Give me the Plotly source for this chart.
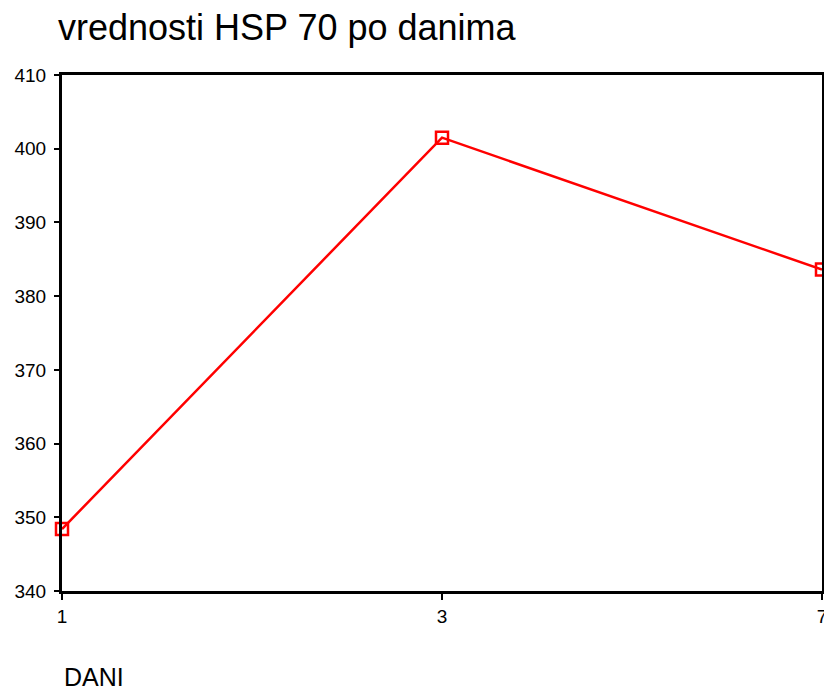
import plotly.graph_objects as go

days = ["1", "3", "7"]
hsp70 = [348.4, 401.5, 383.6]
y_ticks = [340, 350, 360, 370, 380, 390, 400, 410]

# page body has an 8px margin, so the figure is sized to fill the rest
W, H = 824, 685
ml, mr, mt, mb = 54, 5, 67, 102

fig = go.Figure()
fig.add_trace(go.Scatter(
    x=list(range(len(days))), y=hsp70,
    mode="lines+markers",
    line=dict(color="#ff0000", width=2.5),
    marker=dict(symbol="square-open", size=12, color="#ff0000", line=dict(width=2.5, color="#ff0000")),
    cliponaxis=False,
    showlegend=False,
))

fig.update_layout(
    width=W, height=H,
    margin=dict(l=ml, r=mr, t=mt, b=mb),
    paper_bgcolor="white", plot_bgcolor="white",
    font=dict(family="Liberation Sans, Arial, sans-serif", color="black"),
    title=dict(text="vrednosti HSP 70 po danima", x=50 / W, xref="container", xanchor="left",
               y=1 - 7 / H, yref="container", yanchor="top",
               font=dict(size=36, color="black")),
    xaxis=dict(range=[0, len(days) - 1], tickvals=list(range(len(days))), ticktext=days,
               showgrid=False, zeroline=False, showline=True, mirror=True,
               linecolor="black", linewidth=3, ticks="outside", ticklen=6, tickwidth=2,
               tickcolor="black", tickfont=dict(size=19)),
    yaxis=dict(range=[340, 410], tickvals=y_ticks, showgrid=False, zeroline=False,
               showline=True, mirror=True, linecolor="black", linewidth=3,
               ticks="outside", ticklen=5, tickwidth=2, tickcolor="black",
               ticklabelstandoff=4, tickfont=dict(size=19)),
    annotations=[dict(text="DANI", xref="paper", yref="paper", x=0, y=-86 / (H - mt - mb),
                      xanchor="left", yanchor="middle", showarrow=False,
                      font=dict(size=25, color="black"))],
)

fig.write_html("out.html")
